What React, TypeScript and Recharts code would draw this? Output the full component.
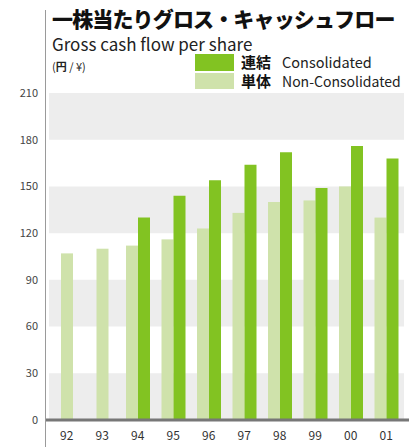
import React from 'react';
import {
    ComposedChart,
    Bar,
    XAxis,
    YAxis,
    ReferenceArea,
} from 'recharts';

const years = ['92', '93', '94', '95', '96', '97', '98', '99', '00', '01'];
const nonConsolidated = [107, 110, 112, 116, 123, 133, 140, 141, 150, 130];
const consolidated = [null, null, 130, 144, 154, 164, 172, 149, 176, 168];
const yTicks = [0, 30, 60, 90, 120, 150, 180, 210];
const bands = [[0, 30], [60, 90], [120, 150], [180, 210]];

const LIGHT = '#cfe2ab';
const DARK = '#82c322';
const FONT = '"Noto Sans CJK JP", "Noto Sans", sans-serif';

const data = years.map((y, i) => ({
    year: y,
    nonCons: nonConsolidated[i],
    cons: consolidated[i],
}));

// single bar years (no consolidated figure) sit centred in the category
const LightBar = (props: any) => {
    const { x, y, width, height, payload } = props;
    const dx = payload.cons == null ? width / 2 : 0;
    return <rect x={x + dx} y={y} width={width} height={height} fill={LIGHT} />;
};

export default function App() {
    return (
        <div style={{ position: 'absolute', left: 0, top: 0, width: 409, height: 447, background: '#fff', fontFamily: FONT }}>
            <ComposedChart
                width={409}
                height={447}
                data={data}
                margin={{ top: 93, right: 0, left: 0, bottom: 0 }}
                barGap={0}
                barSize={12}
            >
                {bands.map(([a, b]) => (
                    <ReferenceArea key={a} y1={a} y2={b} fill="#ededed" fillOpacity={1} stroke="none" />
                ))}
                <XAxis
                    dataKey="year"
                    height={27}
                    padding={{ left: 3, right: 5 }}
                    tickLine={false}
                    tickMargin={5}
                    axisLine={{ stroke: '#777', strokeWidth: 3 }}
                    tick={{ fill: '#333', fontSize: 12, fontFamily: FONT }}
                    interval={0}
                />
                <YAxis
                    width={46}
                    domain={[0, 210]}
                    ticks={yTicks}
                    tickLine={false}
                    axisLine={false}
                    tick={{ fill: '#444', fontSize: 11, fontFamily: FONT }}
                />
                <Bar dataKey="nonCons" fill={LIGHT} shape={LightBar} isAnimationActive={false} />
                <Bar dataKey="cons" fill={DARK} isAnimationActive={false} />
            </ComposedChart>

            {/* vertical axis rule, runs past the plot top and bottom */}
            <div style={{ position: 'absolute', left: 44.5, top: 10, width: 1.5, height: 437, background: '#9a9a9a' }} />

            <div style={{ position: 'absolute', left: 52, top: 3, fontSize: 21, fontWeight: 900, color: '#111', whiteSpace: 'nowrap', letterSpacing: -0.85 }}>
                一株当たりグロス・キャッシュフロー
            </div>
            <div style={{ position: 'absolute', left: 52, top: 31, fontSize: 17, color: '#222', whiteSpace: 'nowrap' }}>
                Gross cash flow per share
            </div>
            <div style={{ position: 'absolute', left: 52, top: 58, fontSize: 11, color: '#222', whiteSpace: 'nowrap' }}>
                (<b>円</b> / ¥)
            </div>

            <div style={{ position: 'absolute', left: 195, top: 54, width: 39, height: 17, background: DARK }} />
            <div style={{ position: 'absolute', left: 195, top: 73, width: 39, height: 16, background: LIGHT }} />
            <div style={{ position: 'absolute', left: 241, top: 52, fontSize: 15, color: '#111', whiteSpace: 'nowrap', lineHeight: '20px' }}>
                <b>連結</b>
                <span style={{ marginLeft: 11, fontSize: 14.5, color: '#222' }}>Consolidated</span>
            </div>
            <div style={{ position: 'absolute', left: 241, top: 71, fontSize: 15, color: '#111', whiteSpace: 'nowrap', lineHeight: '20px' }}>
                <b>単体</b>
                <span style={{ marginLeft: 11, fontSize: 14, color: '#222' }}>Non-Consolidated</span>
            </div>
        </div>
    );
}
